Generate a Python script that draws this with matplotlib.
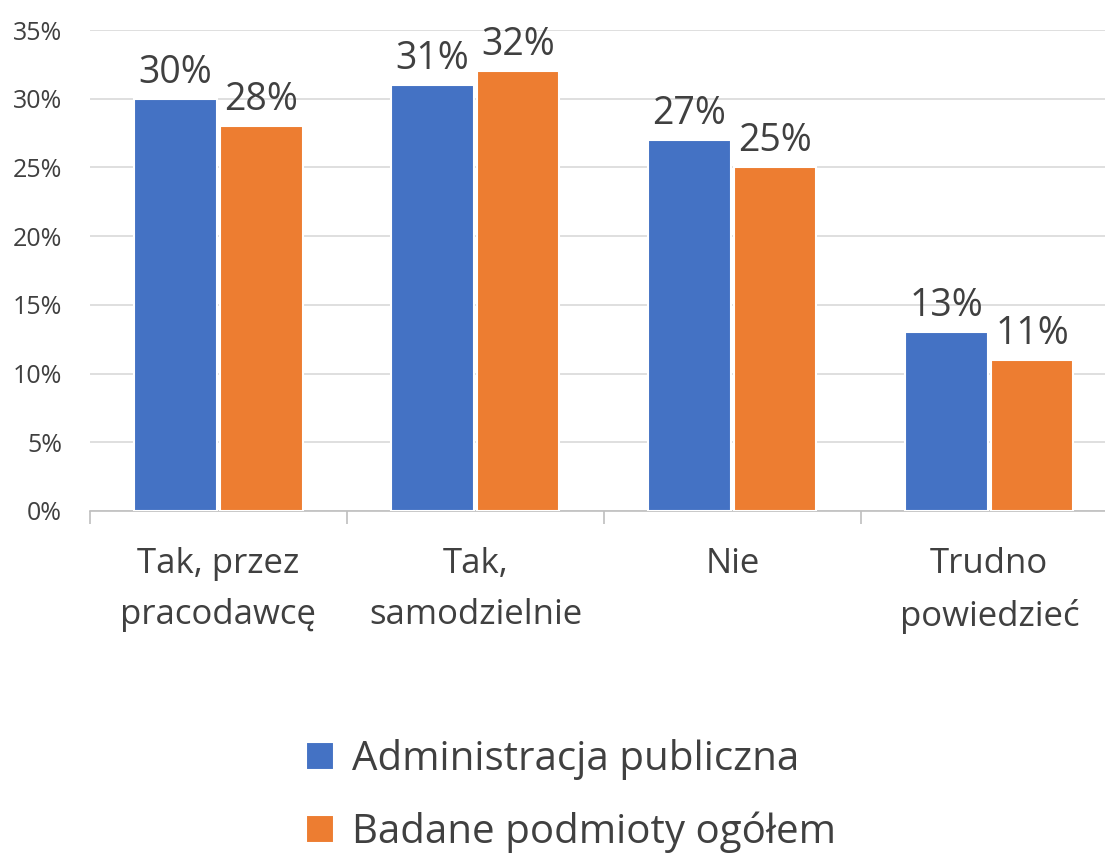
import numpy as np
import matplotlib
matplotlib.use("Agg")
from matplotlib import pyplot as plt

#-----------------------------------------------------------------------------
# Data
#-----------------------------------------------------------------------------

categories = ['Tak, przez\npracodawcę', 'Tak,\nsamodzielnie', 'Nie', 'Trudno\npowiedzieć']
series_names = ['Administracja publiczna', 'Badane podmioty ogółem']
admin_values = [30, 31, 27, 13]
ogolem_values = [28, 32, 25, 11]
y_ticks = [0, 5, 10, 15, 20, 25, 30, 35]

colors = ['#4472C4', '#ED7D31']
text_color = '#404040'

#-----------------------------------------------------------------------------
# Plot
#-----------------------------------------------------------------------------

plt.rcParams['font.family'] = ['Open Sans', 'DejaVu Sans']

fig = plt.figure(figsize=(11.05, 8.58), dpi=100)
ax = fig.add_axes([90/1105, (858-511)/858, (1105-90)/1105, (511-30)/858])

x = np.arange(len(categories))
width = 0.32
offset = 0.167

for vals, col, sgn, name in zip([admin_values, ogolem_values], colors, [-1, 1], series_names):
    bars = ax.bar(x + sgn*offset, vals, width, color=col, edgecolor='white',
                  linewidth=1.5, label=name, zorder=3)
    for b, v in zip(bars, vals):
        ax.annotate('%d%%' % v, (b.get_x() + b.get_width()/2, v),
                    xytext=(0, 5), textcoords='offset points',
                    ha='center', va='bottom', fontsize=27, color=text_color)

ax.set_xlim(-0.5, 3.45)
ax.set_ylim(0, 35)
ax.set_yticks(y_ticks)
ax.set_yticklabels(['%d%%' % t for t in y_ticks], fontsize=18, color=text_color)
ax.yaxis.grid(True, color='#D9D9D9', linewidth=1.2, zorder=0)
ax.tick_params(axis='y', length=0, pad=20)

ax.set_xticks(x)
ax.set_xticklabels(categories, fontsize=25, color=text_color, linespacing=1.65)
ax.set_xticks(np.arange(-0.5, 3.5, 1.0), minor=True)
ax.tick_params(axis='x', which='major', length=0, pad=26)
ax.tick_params(axis='x', which='minor', length=9, color='#BFBFBF', width=1.2)

for s in ['left', 'right', 'top']:
    ax.spines[s].set_visible(False)
ax.spines['bottom'].set_color('#BFBFBF')
ax.spines['bottom'].set_linewidth(1.2)

fig.legend(loc='center', bbox_to_anchor=(0.517, 0.072), ncol=1, frameon=False,
           fontsize=29, labelcolor=text_color, handlelength=0.7, handleheight=0.7,
           handletextpad=0.45, labelspacing=0.78, borderaxespad=0)

fig.savefig('out.png', dpi=100)
